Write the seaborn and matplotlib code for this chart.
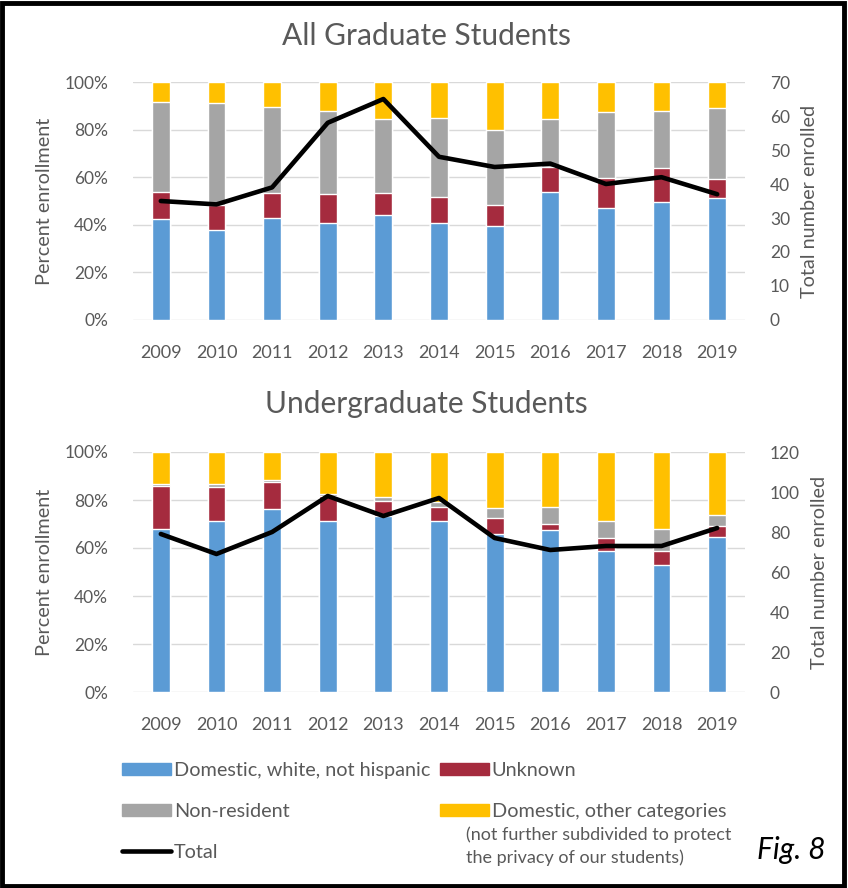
import numpy as np
import matplotlib
matplotlib.use("Agg")
import matplotlib.pyplot as plt
import seaborn as sns
from matplotlib.patches import Patch, Rectangle
from matplotlib.lines import Line2D

years = [str(y) for y in range(2009, 2020)]

# graduate students, percent of enrollment
grad_white = [42.6, 38.0, 42.9, 40.9, 44.0, 40.9, 39.4, 53.9, 47.1, 49.4, 51.1]
grad_unknown = [11.3, 10.2, 10.5, 12.0, 9.4, 10.6, 9.1, 10.5, 12.4, 14.6, 8.0]
grad_nonres = [37.5, 42.9, 36.1, 35.0, 31.0, 33.4, 31.4, 20.0, 28.0, 23.9, 29.8]
grad_other = [8.6, 8.9, 10.5, 12.1, 15.6, 15.1, 20.1, 15.6, 12.5, 12.1, 11.1]
grad_total = [35, 34, 39, 58, 65, 48, 45, 46, 40, 42, 37]

# undergraduate students, percent of enrollment
ug_white = [68.1, 71.1, 76.3, 71.1, 73.2, 71.1, 66.0, 67.7, 58.7, 53.1, 64.6]
ug_unknown = [17.6, 14.2, 11.0, 10.7, 6.2, 5.9, 6.5, 2.3, 5.3, 5.6, 4.4]
ug_nonres = [1.0, 1.4, 1.0, 0.7, 1.8, 2.1, 4.0, 6.9, 7.1, 9.2, 4.9]
ug_other = [13.3, 13.3, 11.7, 17.5, 18.8, 20.9, 23.5, 23.1, 28.9, 32.1, 26.1]
ug_total = [79, 69, 80, 98, 88, 97, 77, 71, 73, 73, 82]

c_white = "#5B9BD5"
c_unknown = "#A52B3E"
c_nonres = "#A5A5A5"
c_other = "#FFC000"
txt = "#595959"

sns.set_theme(style="white")
plt.rcParams["font.family"] = ["Lato", "DejaVu Sans"]

fig = plt.figure(figsize=(8.48, 8.88), dpi=100)
W, H = 848, 888


def panel(top, bottom, white, unknown, nonres, other, total, tmax, tstep, title, title_y):
    ax = fig.add_axes([133 / W, 1 - bottom / H, 612 / W, (bottom - top) / H])
    w = np.array(white)
    u = w + np.array(unknown)
    n = u + np.array(nonres)
    o = n + np.array(other)
    for vals, col in [(o, c_other), (n, c_nonres), (u, c_unknown), (w, c_white)]:
        sns.barplot(x=years, y=vals, color=col, saturation=1, width=0.32, ax=ax)
    ax.set_xlim(-0.5, 10.5)
    ax.set_ylim(0, 100)
    ax.set_yticks(range(0, 101, 20))
    ax.set_yticklabels([f"{v}%" for v in range(0, 101, 20)])
    ax.set_xlabel("")
    ax.set_ylabel("Percent enrollment", fontsize=14.3, color=txt, labelpad=8)
    ax.yaxis.grid(True, color="#D9D9D9", lw=1)
    ax.set_axisbelow(True)
    for s in ax.spines.values():
        s.set_visible(False)
    ax.tick_params(axis="y", length=0, pad=18, labelsize=12.5, labelcolor=txt)
    ax.tick_params(axis="x", length=0, pad=18, labelsize=13, labelcolor=txt)

    ax2 = ax.twinx()
    sns.lineplot(x=np.arange(len(years)), y=total, color="black", lw=3.3, ax=ax2)
    ax2.set_ylim(0, tmax)
    ax2.set_yticks(range(0, tmax + 1, tstep))
    ax2.set_ylabel("Total number enrolled", fontsize=14.3, color=txt, labelpad=8)
    ax2.grid(False)
    for s in ax2.spines.values():
        s.set_visible(False)
    ax2.tick_params(axis="y", length=0, pad=18, labelsize=12.5, labelcolor=txt)
    fig.text(426 / W, 1 - title_y / H, title, ha="center", va="center",
             fontsize=21.5, color=txt)


panel(82, 320, grad_white, grad_unknown, grad_nonres, grad_other, grad_total,
      70, 10, "All Graduate Students", 36)
panel(452, 692, ug_white, ug_unknown, ug_nonres, ug_other, ug_total,
      120, 20, "Undergraduate Students", 404)

hkw = dict(frameon=False, fontsize=14.3, handlelength=2.45, handleheight=0.55,
           handletextpad=0.15, labelspacing=1.2, borderpad=0, borderaxespad=0,
           labelcolor=txt, loc="upper left")
leg1 = fig.legend(handles=[Patch(color=c_white, label="Domestic, white, not hispanic"),
                           Patch(color=c_nonres, label="Non-resident"),
                           Line2D([], [], color="black", lw=3.3, label="Total")],
                  bbox_to_anchor=(122 / W, 1 - 762 / H), **hkw)
leg2 = fig.legend(handles=[Patch(color=c_unknown, label="Unknown"),
                           Patch(color=c_other, label="Domestic, other categories")],
                  bbox_to_anchor=(440 / W, 1 - 762 / H), **hkw)

fig.text(466 / W, 1 - 835 / H, "(not further subdivided to protect", fontsize=13,
         color=txt, va="center")
fig.text(466 / W, 1 - 858 / H, "the privacy of our students)", fontsize=13,
         color=txt, va="center")
fig.text(757 / W, 1 - 850 / H, "Fig. 8", fontsize=21.5, style="italic",
         color="black", va="center")

fig.add_artist(Rectangle((0.002, 0.002), 0.993, 0.995, transform=fig.transFigure,
                         fill=False, edgecolor="black", lw=3.5))

fig.savefig("out.png", dpi=100)
